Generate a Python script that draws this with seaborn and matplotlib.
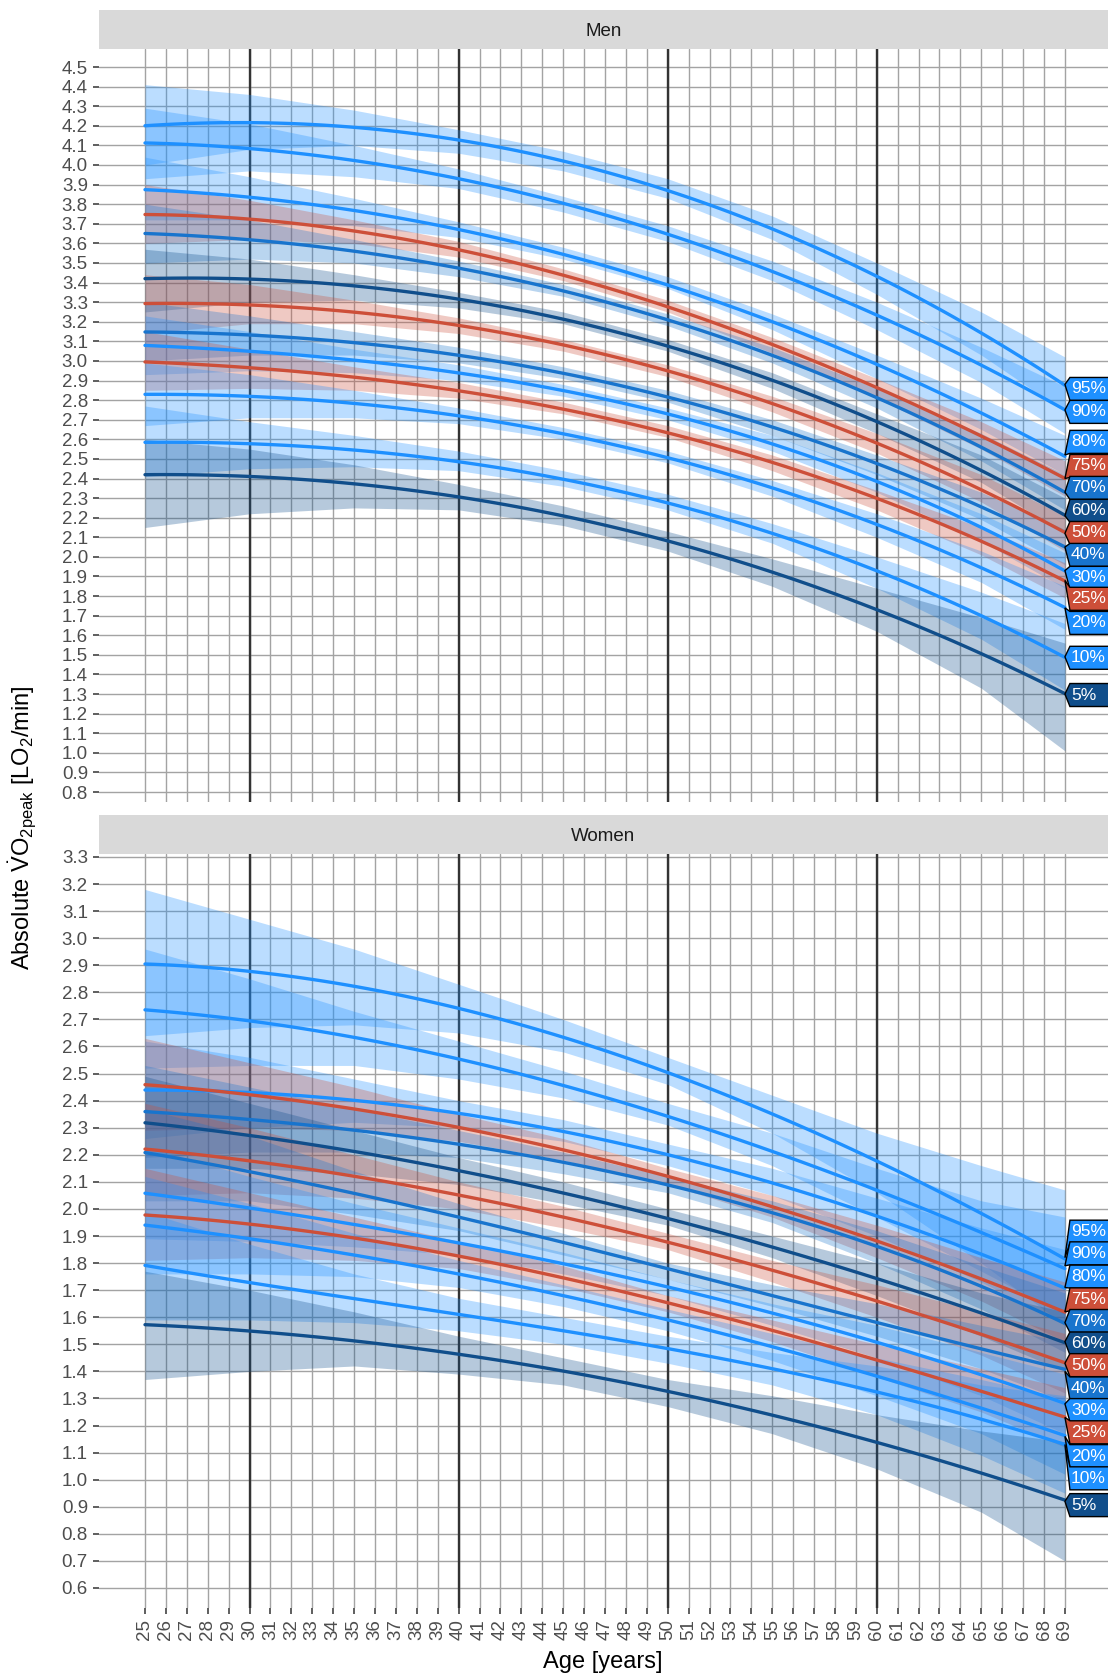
import numpy as np
import pandas as pd
import matplotlib
matplotlib.use("Agg")
import matplotlib.pyplot as plt
import seaborn as sns
from matplotlib.patches import Polygon
from matplotlib.transforms import IdentityTransform

# ---------------- data ----------------
ages = [25, 30, 35, 40, 45, 50, 55, 60, 65, 69]
percentiles = ["95%", "90%", "80%", "75%", "70%", "60%", "50%",
               "40%", "30%", "25%", "20%", "10%", "5%"]
pct_colors = ["#1E90FF", "#1E90FF", "#1E90FF", "#CD4F39", "#1874CD", "#104E8B", "#CD4F39",
              "#1874CD", "#1E90FF", "#CD4F39", "#1E90FF", "#1E90FF", "#104E8B"]

men_values = [
    [4.20, 4.22, 4.19, 4.12, 4.02, 3.88, 3.68, 3.42, 3.14, 2.88],
    [4.11, 4.09, 4.02, 3.93, 3.80, 3.65, 3.46, 3.23, 2.98, 2.75],
    [3.88, 3.83, 3.76, 3.67, 3.55, 3.40, 3.20, 2.97, 2.73, 2.52],
    [3.75, 3.72, 3.66, 3.57, 3.44, 3.28, 3.08, 2.86, 2.62, 2.40],
    [3.65, 3.62, 3.56, 3.47, 3.36, 3.21, 3.03, 2.81, 2.56, 2.33],
    [3.42, 3.42, 3.38, 3.31, 3.22, 3.08, 2.90, 2.68, 2.45, 2.21],
    [3.29, 3.29, 3.25, 3.18, 3.08, 2.95, 2.78, 2.58, 2.35, 2.12],
    [3.15, 3.13, 3.09, 3.03, 2.94, 2.82, 2.66, 2.47, 2.26, 2.05],
    [3.08, 3.05, 3.00, 2.94, 2.85, 2.73, 2.58, 2.38, 2.15, 1.93],
    [3.00, 2.96, 2.91, 2.85, 2.76, 2.64, 2.48, 2.29, 2.08, 1.88],
    [2.83, 2.82, 2.78, 2.72, 2.63, 2.51, 2.35, 2.16, 1.95, 1.74],
    [2.59, 2.57, 2.54, 2.49, 2.40, 2.28, 2.12, 1.92, 1.70, 1.49],
    [2.42, 2.41, 2.37, 2.31, 2.21, 2.08, 1.92, 1.73, 1.51, 1.30],
]
men_lower = [
    [4.00, 4.08, 4.10, 4.06, 3.97, 3.83, 3.62, 3.34, 3.03, 2.74],
    [3.93, 3.97, 3.94, 3.88, 3.76, 3.61, 3.41, 3.16, 2.89, 2.63],
    [3.72, 3.72, 3.69, 3.63, 3.52, 3.37, 3.16, 2.91, 2.65, 2.42],
    [3.60, 3.62, 3.60, 3.53, 3.41, 3.25, 3.04, 2.81, 2.55, 2.31],
    [3.50, 3.52, 3.50, 3.43, 3.33, 3.18, 2.99, 2.76, 2.49, 2.24],
    [3.25, 3.30, 3.31, 3.27, 3.19, 3.05, 2.86, 2.63, 2.38, 2.12],
    [3.14, 3.19, 3.19, 3.14, 3.05, 2.92, 2.74, 2.53, 2.28, 2.03],
    [3.00, 3.03, 3.03, 2.99, 2.91, 2.79, 2.62, 2.42, 2.19, 1.96],
    [2.93, 2.95, 2.94, 2.90, 2.82, 2.70, 2.54, 2.33, 2.08, 1.84],
    [2.85, 2.86, 2.85, 2.81, 2.73, 2.61, 2.44, 2.24, 2.01, 1.79],
    [2.67, 2.71, 2.71, 2.68, 2.60, 2.48, 2.31, 2.10, 1.87, 1.63],
    [2.41, 2.45, 2.46, 2.44, 2.36, 2.24, 2.07, 1.84, 1.58, 1.32],
    [2.15, 2.22, 2.25, 2.24, 2.16, 2.03, 1.85, 1.62, 1.33, 1.01],
]
men_upper = [
    [4.41, 4.36, 4.28, 4.18, 4.07, 3.93, 3.74, 3.50, 3.25, 3.02],
    [4.29, 4.21, 4.10, 3.98, 3.84, 3.69, 3.51, 3.30, 3.07, 2.87],
    [4.04, 3.94, 3.83, 3.71, 3.58, 3.43, 3.24, 3.03, 2.81, 2.62],
    [3.90, 3.82, 3.72, 3.61, 3.47, 3.31, 3.12, 2.91, 2.69, 2.49],
    [3.80, 3.72, 3.62, 3.51, 3.39, 3.24, 3.07, 2.86, 2.63, 2.42],
    [3.57, 3.52, 3.44, 3.35, 3.25, 3.11, 2.94, 2.73, 2.52, 2.30],
    [3.44, 3.39, 3.31, 3.22, 3.11, 2.98, 2.82, 2.63, 2.42, 2.21],
    [3.30, 3.23, 3.15, 3.07, 2.97, 2.85, 2.70, 2.52, 2.33, 2.14],
    [3.23, 3.15, 3.06, 2.98, 2.88, 2.76, 2.62, 2.43, 2.22, 2.02],
    [3.15, 3.06, 2.97, 2.89, 2.79, 2.67, 2.52, 2.34, 2.15, 1.97],
    [2.99, 2.93, 2.85, 2.76, 2.66, 2.54, 2.39, 2.22, 2.03, 1.85],
    [2.77, 2.69, 2.62, 2.54, 2.44, 2.32, 2.17, 2.00, 1.82, 1.66],
    [2.60, 2.55, 2.47, 2.37, 2.26, 2.13, 1.99, 1.84, 1.69, 1.56],
]
men_label_y = [2.857, 2.740, 2.587, 2.464, 2.352, 2.235, 2.122,
               2.010, 1.893, 1.786, 1.663, 1.485, 1.295]

women_values = [
    [2.91, 2.87, 2.82, 2.74, 2.64, 2.51, 2.35, 2.17, 1.98, 1.82],
    [2.74, 2.69, 2.63, 2.55, 2.46, 2.35, 2.22, 2.06, 1.90, 1.79],
    [2.44, 2.43, 2.40, 2.35, 2.29, 2.20, 2.10, 1.97, 1.83, 1.71],
    [2.46, 2.42, 2.37, 2.30, 2.22, 2.12, 2.01, 1.88, 1.74, 1.62],
    [2.36, 2.33, 2.29, 2.24, 2.17, 2.09, 1.99, 1.86, 1.71, 1.58],
    [2.32, 2.27, 2.21, 2.14, 2.06, 1.97, 1.86, 1.74, 1.61, 1.51],
    [2.22, 2.18, 2.12, 2.05, 1.97, 1.88, 1.77, 1.66, 1.54, 1.43],
    [2.20, 2.15, 2.06, 1.97, 1.87, 1.77, 1.68, 1.59, 1.49, 1.40],
    [2.06, 2.00, 1.94, 1.88, 1.80, 1.71, 1.61, 1.51, 1.39, 1.28],
    [1.98, 1.94, 1.89, 1.83, 1.75, 1.65, 1.55, 1.44, 1.33, 1.23],
    [1.94, 1.89, 1.83, 1.76, 1.68, 1.59, 1.49, 1.38, 1.27, 1.16],
    [1.79, 1.73, 1.67, 1.61, 1.55, 1.48, 1.41, 1.33, 1.22, 1.13],
    [1.57, 1.55, 1.52, 1.46, 1.40, 1.32, 1.24, 1.14, 1.03, 0.92],
]
women_halfwidth = [
    [0.27, 0.20, 0.14, 0.09, 0.06, 0.05, 0.07, 0.11, 0.18, 0.25],
    [0.22, 0.16, 0.10, 0.07, 0.05, 0.04, 0.06, 0.09, 0.13, 0.18],
    [0.18, 0.13, 0.08, 0.05, 0.04, 0.04, 0.05, 0.07, 0.10, 0.14],
    [0.17, 0.12, 0.08, 0.05, 0.04, 0.03, 0.04, 0.06, 0.08, 0.11],
    [0.17, 0.12, 0.08, 0.05, 0.04, 0.03, 0.04, 0.06, 0.08, 0.11],
    [0.17, 0.12, 0.08, 0.05, 0.04, 0.03, 0.04, 0.06, 0.08, 0.11],
    [0.17, 0.12, 0.08, 0.05, 0.04, 0.03, 0.04, 0.06, 0.08, 0.11],
    [0.17, 0.12, 0.08, 0.05, 0.04, 0.03, 0.04, 0.06, 0.08, 0.11],
    [0.17, 0.12, 0.08, 0.05, 0.04, 0.03, 0.04, 0.06, 0.08, 0.11],
    [0.17, 0.12, 0.08, 0.05, 0.04, 0.03, 0.04, 0.06, 0.08, 0.11],
    [0.18, 0.13, 0.08, 0.05, 0.04, 0.04, 0.05, 0.07, 0.10, 0.14],
    [0.20, 0.14, 0.09, 0.06, 0.05, 0.05, 0.06, 0.09, 0.13, 0.18],
    [0.20, 0.15, 0.10, 0.07, 0.05, 0.05, 0.07, 0.10, 0.15, 0.22],
]
women_label_y = [1.916, 1.836, 1.750, 1.666, 1.586, 1.503, 1.423,
                 1.337, 1.257, 1.175, 1.087, 1.005, 0.906]

women_lower = [list(np.round(np.array(v) - np.array(h), 3)) for v, h in zip(women_values, women_halfwidth)]
women_upper = [list(np.round(np.array(v) + np.array(h), 3)) for v, h in zip(women_values, women_halfwidth)]

panels = [
    ("Men", men_values, men_lower, men_upper, men_label_y, (0.749, 4.592),
     np.round(np.arange(0.8, 4.501, 0.1), 1)),
    ("Women", women_values, women_lower, women_upper, women_label_y, (0.526, 3.311),
     np.round(np.arange(0.6, 3.301, 0.1), 1)),
]

# ---------------- style ----------------
sns.set_theme(style="white")
plt.rcParams["font.family"] = ["Liberation Sans", "DejaVu Sans"]
plt.rcParams["mathtext.fontset"] = "custom"
plt.rcParams["mathtext.rm"] = "Liberation Sans"
plt.rcParams["mathtext.it"] = "Liberation Sans:italic"

W, H = 1108, 1680
fig = plt.figure(figsize=(W / 100, H / 100), dpi=100)

def fx(px):
    return px / W

def fy(py):
    return 1 - py / H

# pixel layout: (strip_top, panel_top, panel_bottom)
layout = [(10, 49, 802), (815, 854, 1608)]
left_px, right_px = 99, 1108
xlim = (22.8, 71.06)
year_ticks = list(range(25, 70))
pal = dict(zip(percentiles, pct_colors))

for (name, vals, los, his, laby, ylim, yt), (s_top, p_top, p_bot) in zip(panels, layout):
    ax = fig.add_axes([fx(left_px), fy(p_bot), fx(right_px - left_px), (p_bot - p_top) / H])
    sax = fig.add_axes([fx(left_px), fy(p_top), fx(right_px - left_px), (p_top - s_top) / H])
    sax.set_facecolor("#D9D9D9")
    sax.set_xticks([]); sax.set_yticks([])
    for sp in sax.spines.values():
        sp.set_visible(False)
    sax.text(0.5, 0.45, name, ha="center", va="center", fontsize=13.5, color="#1A1A1A",
             transform=sax.transAxes)

    ax.set_facecolor("white")
    for sp in ax.spines.values():
        sp.set_visible(False)
    ax.grid(True, which="major", color="#A3A3A3", linewidth=1.0, zorder=0)
    ax.set_axisbelow(True)
    for v in [30, 40, 50, 60]:
        ax.axvline(v, color="#333333", linewidth=1.7, zorder=1)

    for p, lo, hi in zip(percentiles, los, his):
        ax.fill_between(ages, lo, hi, color=pal[p], alpha=0.3, linewidth=0, zorder=2)

    for p, v in zip(percentiles, vals):
        sns.regplot(x=np.array(ages, dtype=float), y=np.array(v), order=3, ci=None,
                    scatter=False, truncate=True, ax=ax,
                    line_kws={"color": pal[p], "linewidth": 2.4, "zorder": 3})
    ax.set_xlabel("")
    ax.set_ylabel("")
    ax.set_xlim(*xlim)
    ax.set_ylim(*ylim)
    ax.set_xticks(year_ticks)
    ax.set_yticks(yt)
    ax.set_yticklabels([f"{v:.1f}" for v in yt])

    ax.tick_params(axis="y", length=4, width=1.1, color="#333333", labelsize=13.5,
                   labelcolor="#4D4D4D", pad=4, left=True)
    if name == "Women":
        ax.tick_params(axis="x", length=4, width=1.1, color="#333333", labelsize=13.5,
                       labelcolor="#4D4D4D", pad=4, bottom=True, labelrotation=90)
        ax.set_xticklabels([str(a) for a in year_ticks])
    else:
        ax.tick_params(axis="x", bottom=False, labelbottom=False)

    # direct labels at line ends
    fig.canvas.draw()
    for p, v, ly in zip(percentiles, vals, laby):
        tx, ty = ax.transData.transform((ages[-1], v[-1]))
        _, cy = ax.transData.transform((ages[-1], ly))
        top, bot = cy + 11.5, cy - 11.5
        pts = [(tx, ty), (tx + 5, top), (W + 10, top), (W + 10, bot), (tx + 5, bot)]
        poly = Polygon(pts, closed=True, facecolor=pal[p], edgecolor="black",
                       linewidth=1.0, transform=IdentityTransform(), clip_on=False, zorder=5)
        ax.add_artist(poly)
        ax.text(tx + 6, cy, p, color="white", fontsize=12.5, ha="left", va="center",
                transform=IdentityTransform(), clip_on=False, zorder=6)

fig.text(fx(603), fy(1662), "Age [years]", ha="center", va="center", fontsize=17, color="black")
fig.text(fx(22), fy(828), r"Absolute $\dot{\mathrm{V}}\mathrm{O}_{2\mathrm{peak}}$ [LO$_2$/min]",
         ha="center", va="center", rotation=90, fontsize=17, color="black")

fig.savefig("out.png", dpi=100)
